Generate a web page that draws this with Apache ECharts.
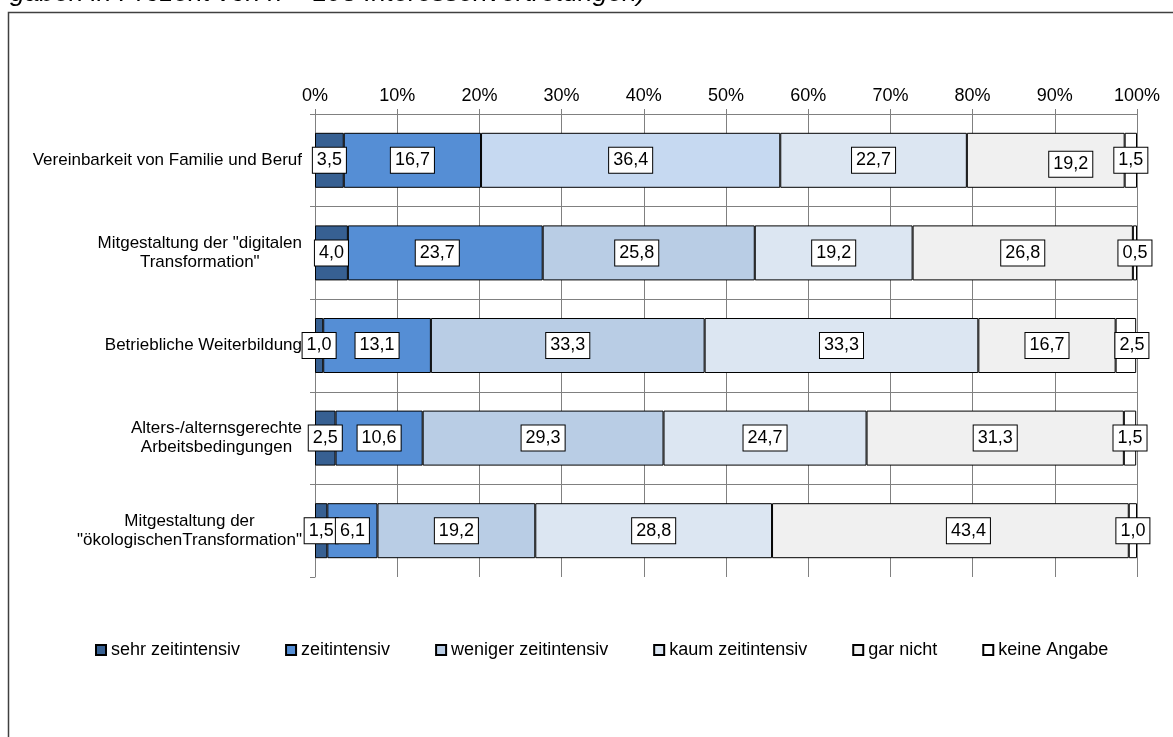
<!DOCTYPE html>
<html>
<head>
<meta charset="utf-8">
<script src="https://cdn.jsdelivr.net/npm/echarts@6/dist/echarts.min.js"></script>
<style>
  html, body { margin: 0; padding: 0; background: #ffffff; }
  #chart { width: 1173px; height: 737px; }
</style>
</head>
<body>
<div id="chart"></div>
<script>
// Themen (Kategorien), von oben nach unten
const categories = [
  'Vereinbarkeit von Familie und Beruf',
  'Mitgestaltung der "digitalen\nTransformation"',
  'Betriebliche Weiterbildung',
  'Alters-/alternsgerechte\nArbeitsbedingungen',
  'Mitgestaltung der\n"ökologischenTransformation"'
];

// Antwortkategorien (Legende)
const seriesNames = [
  'sehr zeitintensiv',
  'zeitintensiv',
  'weniger zeitintensiv',
  'kaum zeitintensiv',
  'gar nicht',
  'keine Angabe'
];

// Anteile in Prozent je Thema
const sehrZeitintensiv    = [3.5, 4.0, 1.0, 2.5, 1.5];
const zeitintensiv        = [16.7, 23.7, 13.1, 10.6, 6.1];
const wenigerZeitintensiv = [36.4, 25.8, 33.3, 29.3, 19.2];
const kaumZeitintensiv    = [22.7, 19.2, 33.3, 24.7, 28.8];
const garNicht            = [19.2, 26.8, 16.7, 31.3, 43.4];
const keineAngabe         = [1.5, 0.5, 2.5, 1.5, 1.0];

// Prozentskala
const axisMin = 0;
const axisMax = 100;
const axisStep = 10;

const values = [sehrZeitintensiv, zeitintensiv, wenigerZeitintensiv, kaumZeitintensiv, garNicht, keineAngabe];

// Darstellung
const FONT = '"Liberation Sans", Arial, sans-serif';
const colors = ['#376092', '#558ED5', '#B9CDE5', '#DCE6F2', '#F0F0F0', '#FFFFFF'];
// abweichende Füllung einzelner Segmente: [Reihe][Kategorie]
const pointColors = { 2: { 0: '#C6D9F1' } };
// verschobene Wertebeschriftungen: [Reihe][Kategorie] -> [dx, dy]
const labelShift = {
  1: { 1: [-8, 0] },
  2: { 1: [-12, 0] },
  4: { 0: [25, 4], 4: [18, 0] },
  5: { 2: [6, 0] }
};

const fmt = v => v.toFixed(1).replace('.', ',');

const series = seriesNames.map((name, si) => ({
  name,
  type: 'bar',
  stack: 'gesamt',
  barWidth: 55,
  itemStyle: { color: colors[si], borderColor: '#000000', borderWidth: 1 },
  label: {
    show: true,
    position: 'inside',
    formatter: p => fmt(p.value),
    fontFamily: FONT,
    fontSize: 18,
    color: '#000000',
    backgroundColor: '#ffffff',
    borderColor: '#000000',
    borderWidth: 1,
    padding: [4, 4, 3, 4],
    lineHeight: 18
  },
  data: values[si].map((v, ci) => {
    const item = { value: v };
    if (pointColors[si] && pointColors[si][ci]) {
      item.itemStyle = { color: pointColors[si][ci] };
    }
    if (labelShift[si] && labelShift[si][ci]) {
      item.label = { offset: labelShift[si][ci] };
    }
    return item;
  })
}));

const chart = echarts.init(document.getElementById('chart'), null, { renderer: 'canvas' });

chart.setOption({
  animation: false,
  backgroundColor: '#ffffff',
  textStyle: { fontFamily: FONT },
  grid: { left: 315, right: 36, top: 114, bottom: 160, containLabel: false },
  legend: {
    left: 90,
    top: 636,
    itemGap: 45,
    itemWidth: 10,
    itemHeight: 10,
    icon: 'rect',
    textStyle: { fontFamily: FONT, fontSize: 18, color: '#000000' },
    data: seriesNames
  },
  xAxis: {
    type: 'value',
    position: 'top',
    min: axisMin,
    max: axisMax,
    interval: axisStep,
    axisLine: { show: true, lineStyle: { color: '#808080', width: 1 } },
    axisTick: { show: true, length: 5, lineStyle: { color: '#808080' } },
    axisLabel: {
      formatter: '{value}%',
      fontFamily: FONT,
      fontSize: 18,
      color: '#000000',
      margin: 9
    },
    splitLine: { show: true, lineStyle: { color: '#808080', width: 1 } }
  },
  yAxis: {
    type: 'category',
    inverse: true,
    data: categories,
    axisLine: { show: true, lineStyle: { color: '#808080', width: 1 } },
    axisTick: { show: true, length: 5, lineStyle: { color: '#808080' } },
    splitLine: { show: true, showMaxLine: false, lineStyle: { color: '#808080', width: 1 } },
    axisLabel: {
      margin: 13,
      formatter: v => v.split('\n').map(l => '{c|' + l + '}').join('\n'),
      rich: {
        c: { align: 'center', fontFamily: FONT, fontSize: 17, color: '#000000', lineHeight: 19 }
      }
    }
  },
  graphic: [
    {
      type: 'rect',
      silent: true,
      z: -10,
      shape: { x: 8.5, y: 12.5, width: 1300, height: 900 },
      style: { fill: 'none', stroke: '#404040', lineWidth: 1.5 }
    },
    {
      type: 'text',
      silent: true,
      x: 10,
      y: 7.5,
      style: {
        text: 'gaben in Prozent von n = 198 Interessenvertretungen)',
        font: 'italic 26.5px "Liberation Sans", Arial, sans-serif',
        fill: '#000000',
        verticalAlign: 'bottom'
      }
    }
  ],
  series
});
</script>
</body>
</html>
